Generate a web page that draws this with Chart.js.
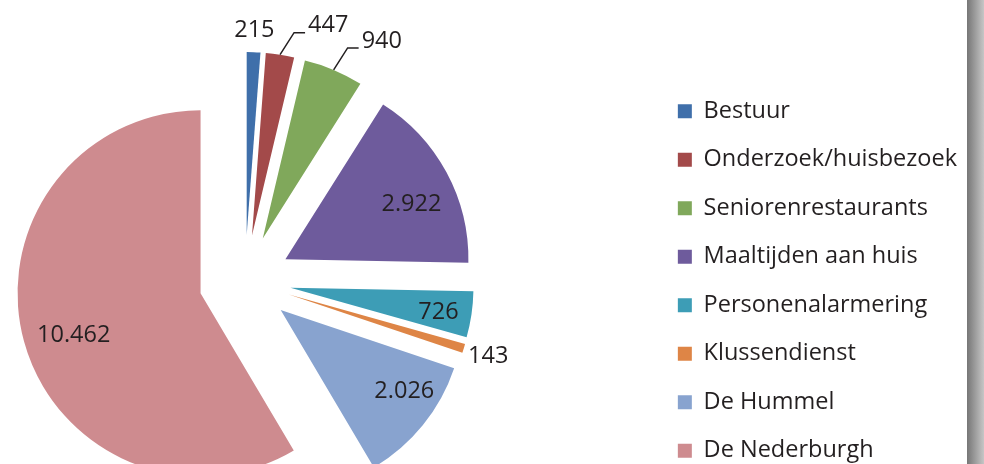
<!DOCTYPE html>
<html>
<head>
<meta charset="utf-8">
<script src="https://cdn.jsdelivr.net/npm/chart.js@4.4.1/dist/chart.umd.min.js"></script>
<style>
  html, body { margin: 0; padding: 0; background: #fff; }
  body { width: 984px; height: 464px; overflow: hidden; position: relative; }
  #canvas_taken { position: absolute; left: -163px; top: 0; }
  #rand { position: absolute; left: 967px; top: 0; width: 17px; height: 464px;
          background: linear-gradient(to right, #767676, #a2a2a2 55%, #c6c6c6); }
</style>
</head>
<body>
<canvas id="canvas_taken"></canvas>
<div id="rand"></div>
<script>
const categories = ['Bestuur', 'Onderzoek/huisbezoek', 'Seniorenrestaurants', 'Maaltijden aan huis',
  'Personenalarmering', 'Klussendienst', 'De Hummel', 'De Nederburgh'];
const waarden = [215, 447, 940, 2922, 726, 143, 2026, 10462];
const kleuren = ['#3f6faa', '#a34a4a', '#80a85b', '#6e5b9c', '#3d9db6', '#de8546', '#88a3cf', '#ce8b8f'];

// plaats van de labels: r = factor van de straal, da = hoekverschuiving (graden), lijn = met verbindingslijn
const labelPlaats = [
  { r: 1.12, da: 0 }, { lijn: true }, { lijn: true }, { r: 0.75, da: 5 },
  { r: 0.82, da: 1 }, { r: 1.14, da: 0 }, { r: 0.81, da: -5.5 }, { r: 0.73, da: -3 }
];

const FAMILIE = "'Open Sans', sans-serif";
const GROOTTE = 23.5;
const TEKSTKLEUR = '#231f20';
const STRAAL = 183;
const UITSCHUIF = 46;
const BOX = 14;
const LEG_PAD = 25;

function fmt(v) {
  return String(v).replace(/\B(?=(\d{3})+(?!\d))/g, '.');
}

// breedte van de legenda uitrekenen zodat het midden van de taart op x=245 valt
const meet = document.createElement('canvas').getContext('2d');
meet.font = 'normal ' + GROOTTE + 'px ' + FAMILIE;
let maxTekst = 0;
for (let i = 0; i < categories.length; i++) {
  maxTekst = Math.max(maxTekst, meet.measureText(categories[i]).width);
}
const legendaBreedte = LEG_PAD + BOX + GROOTTE / 2 + maxTekst + 10;

const canvasTaken = document.getElementById('canvas_taken');
canvasTaken.width = 816 + legendaBreedte;
canvasTaken.height = 562;

const uitschuiven = {
  id: 'uitschuiven',
  beforeDatasetDraw(chart, args) {
    const ctx = chart.ctx;
    args.meta.data.forEach(arc => {
      const mid = (arc.startAngle + arc.endAngle) / 2;
      ctx.save();
      ctx.translate(Math.cos(mid) * UITSCHUIF, Math.sin(mid) * UITSCHUIF);
      arc.draw(ctx);
      ctx.restore();
    });
    return false;
  }
};

const waardeLabels = {
  id: 'waardeLabels',
  afterDatasetsDraw(chart) {
    const ctx = chart.ctx;
    const meta = chart.getDatasetMeta(0);
    ctx.save();
    ctx.font = 'normal ' + GROOTTE + 'px ' + FAMILIE;
    ctx.fillStyle = TEKSTKLEUR;
    ctx.strokeStyle = TEKSTKLEUR;
    ctx.lineWidth = 1.5;
    meta.data.forEach((arc, i) => {
      const mid = (arc.startAngle + arc.endAngle) / 2;
      const cx = arc.x + Math.cos(mid) * UITSCHUIF;
      const cy = arc.y + Math.sin(mid) * UITSCHUIF;
      const R = arc.outerRadius;
      const tekst = fmt(waarden[i]);
      const p = labelPlaats[i];
      if (p.lijn) {
        const x0 = cx + Math.cos(mid) * R, y0 = cy + Math.sin(mid) * R;
        const x1 = x0 + 14, y1 = y0 - 22;
        ctx.beginPath();
        ctx.moveTo(x0, y0);
        ctx.lineTo(x1, y1);
        ctx.lineTo(x1 + 11, y1);
        ctx.stroke();
        ctx.textAlign = 'left';
        ctx.textBaseline = 'middle';
        ctx.fillText(tekst, x1 + 14, y1 - 7);
      } else {
        const a = mid + p.da * Math.PI / 180;
        ctx.textAlign = 'center';
        ctx.textBaseline = 'middle';
        ctx.fillText(tekst, cx + Math.cos(a) * R * p.r, cy + Math.sin(a) * R * p.r);
      }
    });
    ctx.restore();
  }
};

new Chart(canvasTaken, {
  type: 'pie',
  data: {
    labels: categories,
    datasets: [{
      data: waarden,
      backgroundColor: kleuren,
      borderWidth: 0
    }]
  },
  options: {
    responsive: false,
    animation: false,
    radius: STRAAL,
    layout: { padding: 0 },
    plugins: {
      legend: {
        position: 'right',
        align: 'center',
        labels: {
          boxWidth: BOX,
          boxHeight: BOX,
          padding: LEG_PAD,
          color: TEKSTKLEUR,
          font: { family: FAMILIE, size: GROOTTE }
        }
      },
      tooltip: { enabled: false }
    }
  },
  plugins: [uitschuiven, waardeLabels]
});
</script>
</body>
</html>
